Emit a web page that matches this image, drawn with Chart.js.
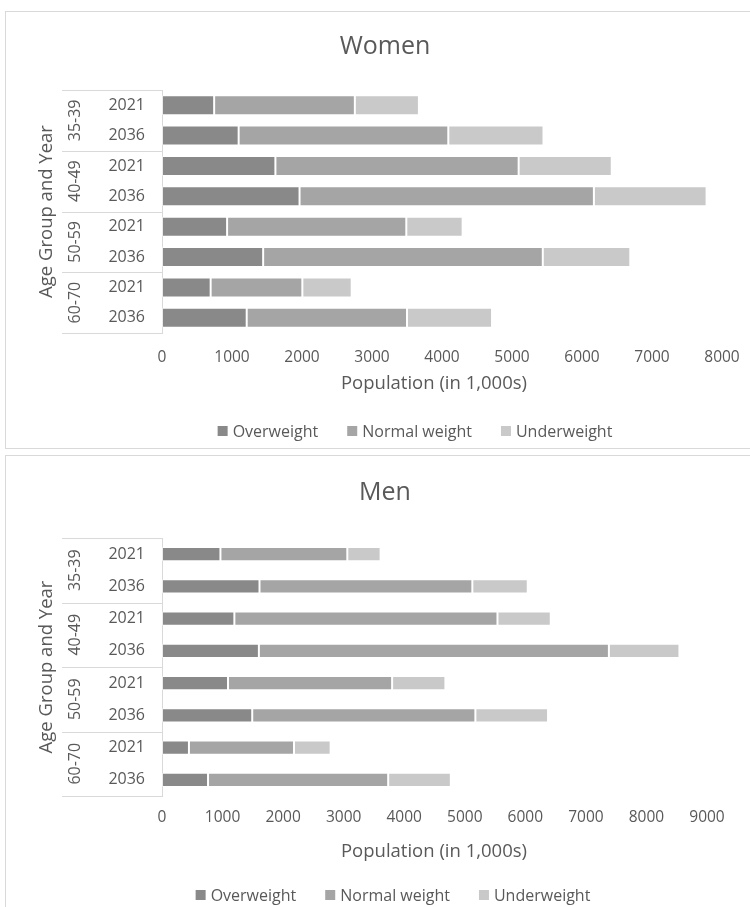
<!DOCTYPE html>
<html>
<head>
<meta charset="utf-8">
<script src="https://cdn.jsdelivr.net/npm/chart.js@4.4.1/dist/chart.umd.min.js"></script>
<style>
  html, body { margin: 0; background: #fff; overflow: hidden; }
  body { width: 750px; height: 907px; position: relative; font-family: "Open Sans", sans-serif; }
  .frame { position: absolute; left: 5px; width: 900px; border: 1px solid #d9d9d9; box-sizing: border-box; }
  #womenFrame { top: 11px; height: 438px; }
  #menFrame { top: 455px; height: 600px; }
  canvas { position: absolute; left: 5px; }
  #women { top: 11px; }
  #men { top: 455px; }
</style>
</head>
<body>
<div class="frame" id="womenFrame"></div>
<div class="frame" id="menFrame"></div>
<canvas id="women" width="760" height="437"></canvas>
<canvas id="men" width="760" height="460"></canvas>
<script>
// data (population in 1,000s)
const years = ['2021', '2036', '2021', '2036', '2021', '2036', '2021', '2036'];
const ageGroups = ['35-39', '40-49', '50-59', '60-70'];
const seriesNames = ['Overweight', 'Normal weight', 'Underweight'];
const seriesColors = ['#898989', '#a5a5a5', '#c9c9c9'];

const womenOverweight = [745, 1095, 1620, 1965, 930, 1445, 695, 1210];
const womenNormal = [2010, 2995, 3475, 4205, 2560, 3995, 1310, 2290];
const womenUnderweight = [915, 1360, 1330, 1610, 805, 1250, 705, 1215];

const menOverweight = [965, 1610, 1195, 1600, 1090, 1490, 445, 760];
const menNormal = [2095, 3515, 4345, 5780, 2710, 3685, 1735, 2975];
const menUnderweight = [550, 915, 880, 1165, 880, 1200, 605, 1035];

const womenMax = 8000;
const menMax = 9000;
const tickStep = 1000;

const textColor = '#595959';
const lineColor = '#d9d9d9';
const fontName = '"Open Sans"';

// chart title, age-group level of the category axis, axis titles and legend
const groupAxis = {
    id: 'groupAxis',
    afterDraw(chart, args, opts) {
        const ctx = chart.ctx;
        const y = chart.scales.y;
        const area = chart.chartArea;
        ctx.save();
        ctx.strokeStyle = lineColor;
        ctx.lineWidth = 1;
        for (let g = 0; g <= ageGroups.length; g++) {
            const py = Math.round(y.getPixelForValue(g * 2 - 0.5)) + 0.5;
            ctx.beginPath();
            ctx.moveTo(57, py);
            ctx.lineTo(area.left, py);
            ctx.stroke();
        }
        ctx.fillStyle = textColor;
        ctx.textAlign = 'center';
        ctx.textBaseline = 'middle';

        ctx.font = '25px ' + fontName;
        ctx.fillText(opts.title, 380, opts.titleY);

        ctx.font = '16px ' + fontName;
        ageGroups.forEach((label, i) => {
            const cy = y.getPixelForValue(i * 2 + 0.5);
            ctx.save();
            ctx.translate(70, cy);
            ctx.rotate(-Math.PI / 2);
            ctx.fillText(label, 0, 0);
            ctx.restore();
        });

        ctx.font = '18.5px ' + fontName;
        ctx.save();
        ctx.translate(42, (area.top + area.bottom) / 2);
        ctx.rotate(-Math.PI / 2);
        ctx.fillText('Age Group and Year', 0, 0);
        ctx.restore();
        ctx.fillText('Population (in 1,000s)', 429, opts.axisTitleY);

        // legend
        ctx.font = '16px ' + fontName;
        const box = 10, gap = 5, itemGap = 29;
        const widths = seriesNames.map(n => ctx.measureText(n).width);
        const total = widths.reduce((a, b) => a + b, 0) + seriesNames.length * (box + gap) + itemGap * (seriesNames.length - 1);
        let x = opts.legendX - total / 2;
        ctx.textAlign = 'left';
        seriesNames.forEach((n, i) => {
            ctx.fillStyle = seriesColors[i];
            ctx.fillRect(x, opts.legendY - box / 2, box, box);
            x += box + gap;
            ctx.fillStyle = textColor;
            ctx.fillText(n, x, opts.legendY + 1);
            x += widths[i] + itemGap;
        });
        ctx.restore();
    }
};

function makeChart(id, title, ow, nw, uw, max, s) {
    const values = [ow, nw, uw];
    return new Chart(document.getElementById(id), {
        type: 'bar',
        data: {
            labels: years,
            datasets: seriesNames.map((name, i) => ({
                label: name,
                data: values[i],
                backgroundColor: seriesColors[i],
                borderColor: 'rgba(255,255,255,0.45)',
                borderWidth: 1,
                borderSkipped: false,
                barPercentage: s.bar,
                categoryPercentage: 1
            }))
        },
        options: {
            indexAxis: 'y',
            responsive: false,
            animation: false,
            layout: { padding: { left: 0, top: s.top, right: s.right, bottom: s.bottom } },
            plugins: {
                legend: { display: false },
                tooltip: { enabled: false },
                title: { display: false },
                groupAxis: {
                    title: title, titleY: s.titleY, axisTitleY: s.axisTitleY,
                    legendX: s.legendX, legendY: s.legendY
                }
            },
            scales: {
                x: {
                    stacked: true,
                    min: 0,
                    max: max,
                    grid: { display: false, drawTicks: false },
                    border: { display: false },
                    ticks: {
                        stepSize: tickStep,
                        color: textColor,
                        font: { family: fontName, size: 15.5 },
                        padding: s.tickPad,
                        maxRotation: 0,
                        callback: (v) => String(v)
                    },
                    afterFit(scale) {
                        scale.height = s.xHeight;
                        scale.paddingLeft = 0;
                        scale.paddingRight = 0;
                    }
                },
                y: {
                    stacked: true,
                    grid: { display: false, drawTicks: false },
                    border: { display: true, color: lineColor, width: 1 },
                    ticks: {
                        color: textColor,
                        font: { family: fontName, size: 16 },
                        padding: 17
                    },
                    afterFit(scale) {
                        scale.width = 157;
                        scale.paddingTop = 0;
                        scale.paddingBottom = 0;
                    }
                }
            }
        },
        plugins: [groupAxis]
    });
}

makeChart('women', 'Women', womenOverweight, womenNormal, womenUnderweight, womenMax, {
    bar: 0.66, top: 79, right: 43, bottom: 53, tickPad: 15, xHeight: 62,
    titleY: 36, axisTitleY: 373, legendX: 410, legendY: 420
});

makeChart('men', 'Men', menOverweight, menNormal, menUnderweight, menMax, {
    bar: 0.44, top: 83, right: 58, bottom: 50, tickPad: 12, xHeight: 69,
    titleY: 38, axisTitleY: 397, legendX: 388, legendY: 440
});
</script>
</body>
</html>
